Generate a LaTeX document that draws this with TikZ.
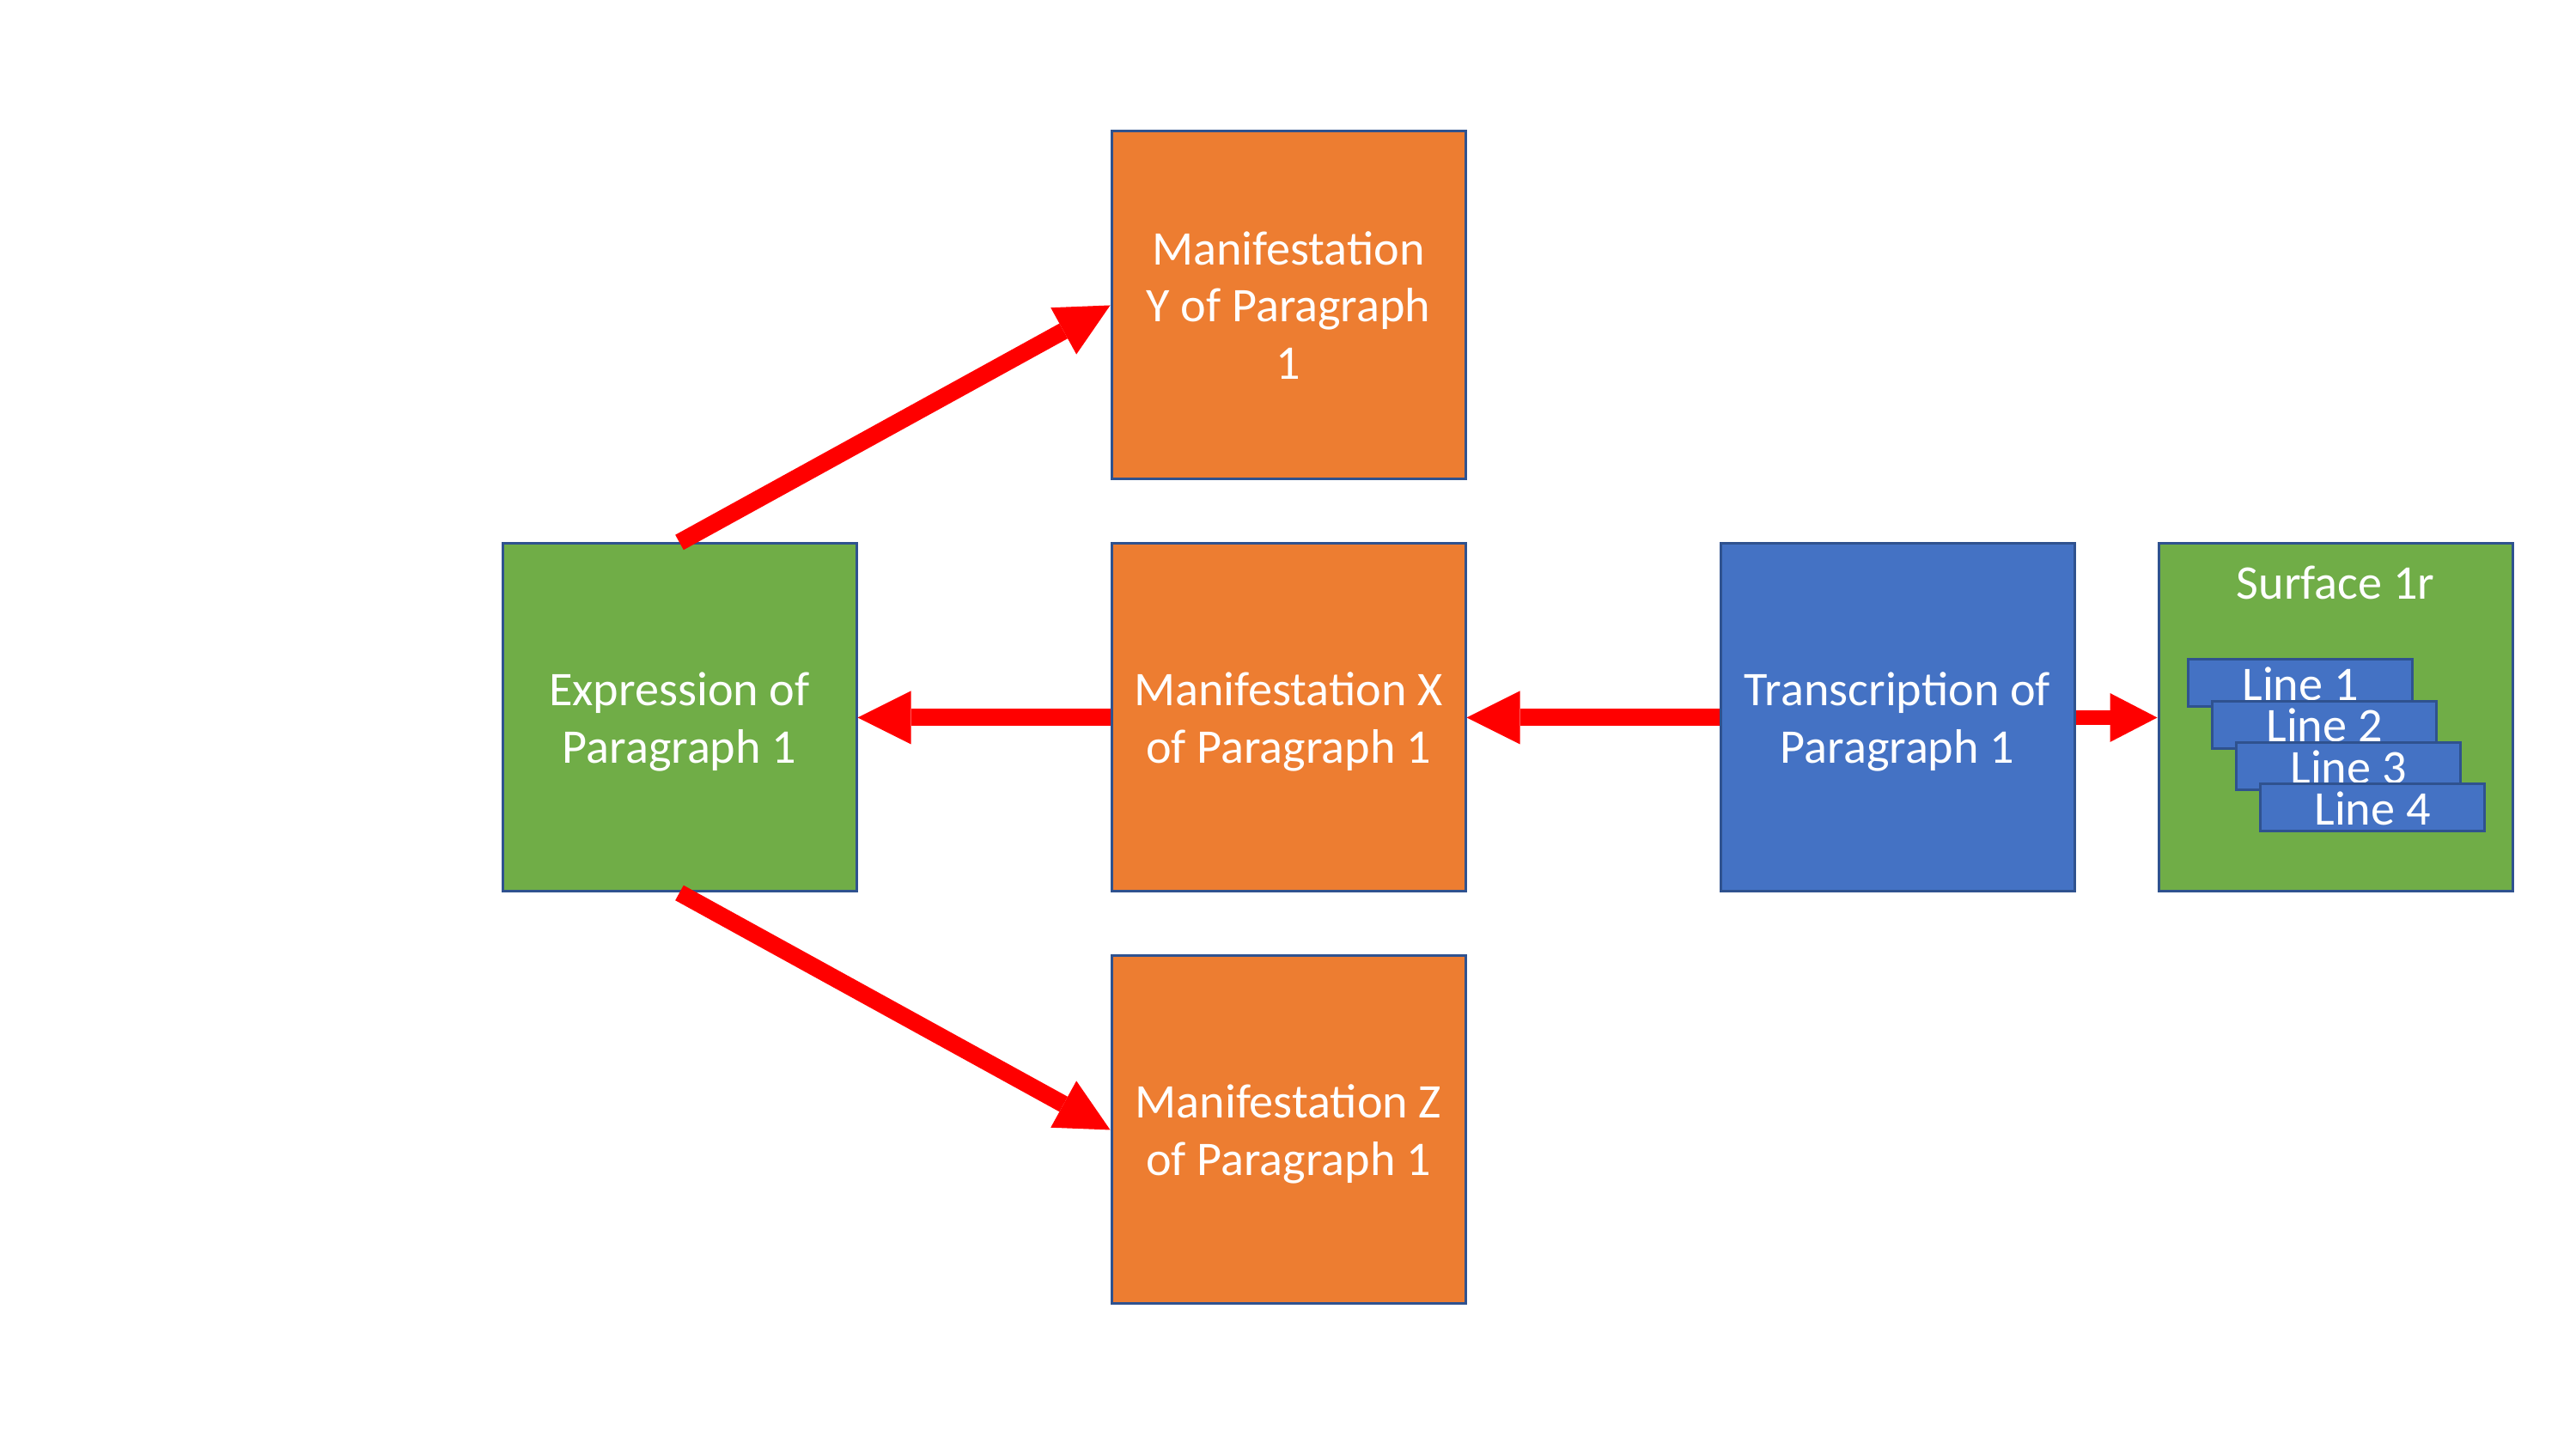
\documentclass[tikz,border=0pt]{standalone}
\usepackage{fontspec}
\setmainfont{Carlito}
\usetikzlibrary{arrows.meta}
\definecolor{cgreen}{HTML}{70AD47}
\definecolor{corange}{HTML}{ED7D31}
\definecolor{cblue}{HTML}{4472C4}
\definecolor{cedge}{HTML}{2F528F}
\definecolor{cred}{HTML}{FF0000}
\tikzset{
  every picture/.style={font=\fontsize{16}{18.9}\selectfont},
  box/.style={draw=cedge, fill=#1, line width=0.85pt, text=white, align=center, text depth=0pt, minimum width=4.12cm, minimum height=4.05cm, inner sep=0pt},
  box/.default=corange,
  linebox/.style={draw=cedge, fill=cblue, line width=0.85pt, text=white, minimum width=2.61cm, minimum height=0.55cm, inner sep=0pt, text height=0.4cm, text depth=0pt},
  arrow/.style={-{Triangle[length=6.2mm, width=6.2mm, line width=0pt]}, draw=cred, line width=0.2cm},
  smallarrow/.style={-{Triangle[length=5.5mm, width=5.7mm, line width=0pt]}, draw=cred, line width=0.17cm},
}

\begin{document}
\begin{tikzpicture}
  \useasboundingbox (0,0) rectangle (29.99,16.87);
  \node[box=cgreen] (expr) at (7.91,8.515) {Expression of\\Paragraph 1};
  \node[box] (manY) at (15.00,13.315) {Manifestation\\Y of Paragraph\\1};
  \node[box] (manX) at (15.00,8.515) {Manifestation X\\of Paragraph 1};
  \node[box] (manZ) at (15.00,3.715) {Manifestation Z\\of Paragraph 1};
  \node[box=cblue] (trans) at (22.09,8.515) {Transcription of\\Paragraph 1};
  \node[box=cgreen] (surf) at (27.19,8.515) {};
  \node[anchor=base, text=white] (surftitle) at ([yshift=-0.66cm]surf.north) {Surface 1r};
  % lines on the surface
  \node[linebox] (line1) at (26.78,8.915) {Line 1};
  \node[linebox] (line2) at (27.06,8.432) {Line 2};
  \node[linebox] (line3) at (27.34,7.949) {Line 3};
  \node[linebox] (line4) at (27.62,7.466) {Line 4};
  \draw[arrow] (expr.north) -- (manY.west);
  \draw[arrow] (expr.south) -- (manZ.west);
  \draw[arrow] (manX) -- (expr);
  \draw[arrow] (trans) -- (manX);
  \draw[smallarrow] (trans) -- (surf);
\end{tikzpicture}
\end{document}
